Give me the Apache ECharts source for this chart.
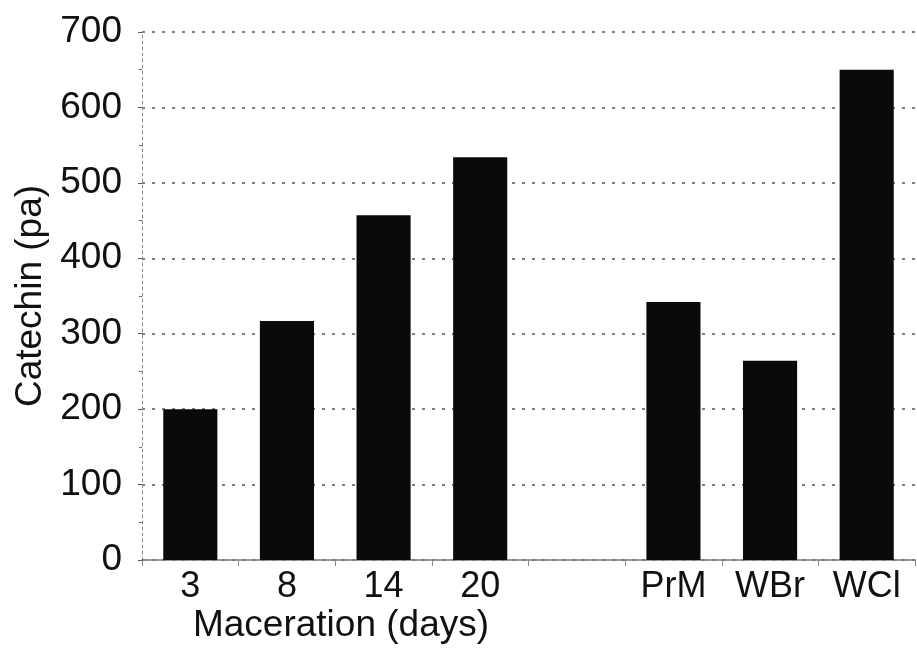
<!DOCTYPE html>
<html>
<head>
<meta charset="utf-8">
<script src="https://cdn.jsdelivr.net/npm/echarts@6/dist/echarts.min.js"></script>
<style>
    html, body { margin: 0; padding: 0; background: #fff; }
    #chart { width: 917px; height: 651px; }
</style>
</head>
<body>
<div id="chart"></div>
<script>
// categories, the empty slot is the gap between the two groups
const categories = ['3', '8', '14', '20', '', 'PrM', 'WBr', 'WCl'];
const catechin = [200, 317, 457, 534, null, 342, 264, 650];
const yTicks = [0, 100, 200, 300, 400, 500, 600, 700];

const font = 'Liberation Sans, Arial, sans-serif';
const chart = echarts.init(document.getElementById('chart'));

const option = {
    animation: false,
    backgroundColor: '#fff',
    grid: {
        left: 142,
        right: 2,
        top: 32,
        bottom: 91,
    },
    xAxis: {
        type: 'category',
        data: categories,
        axisLine: {
            lineStyle: { color: '#777', width: 1.5 },
        },
        axisTick: {
            show: true,
            length: 6,
            lineStyle: { color: '#888' },
        },
        axisLabel: {
            color: '#111',
            fontFamily: font,
            fontSize: 36,
            margin: 9,
        },
    },
    yAxis: {
        type: 'value',
        min: yTicks[0],
        max: yTicks[yTicks.length - 1],
        interval: 100,
        name: 'Catechin (pa)',
        nameLocation: 'middle',
        nameGap: 92,
        nameTextStyle: {
            color: '#111',
            fontFamily: font,
            fontSize: 37,
        },
        axisLine: {
            show: true,
            lineStyle: { color: '#888', type: [3, 3] },
        },
        axisTick: {
            show: true,
            length: 4,
            lineStyle: { color: '#555' },
        },
        minorTick: {
            show: true,
            splitNumber: 2,
            length: 3,
            lineStyle: { color: '#666' },
        },
        axisLabel: {
            color: '#111',
            fontFamily: font,
            fontSize: 37,
            margin: 20,
        },
        splitLine: {
            lineStyle: {
                type: [3, 7],
                color: '#555',
                width: 1.5,
            },
        },
    },
    series: [
        {
            type: 'bar',
            data: catechin,
            barWidth: '56%',
            itemStyle: {
                color: '#0a0a0a',
            },
        },
    ],
    // group title under the maceration days
    graphic: [
        {
            type: 'text',
            style: {
                text: 'Maceration (days)',
                x: 341,
                y: 626,
                fill: '#111',
                font: '37px ' + font,
                textAlign: 'center',
                textVerticalAlign: 'middle',
            },
        },
    ],
};
chart.setOption(option);
</script>
</body>
</html>
